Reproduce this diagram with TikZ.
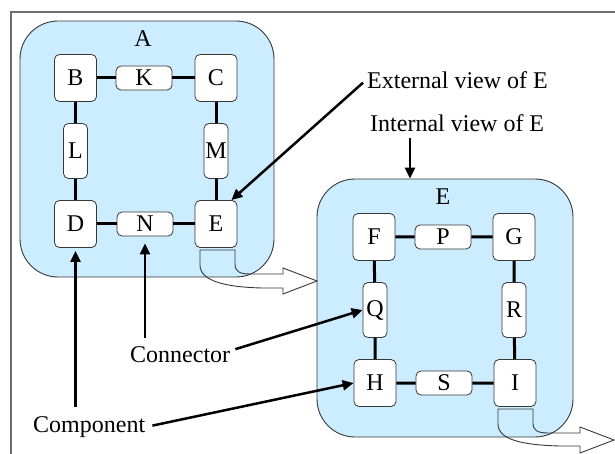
\documentclass[tikz,border=0pt]{standalone}
\usepackage{fontspec}
\setmainfont{Liberation Serif}
\usetikzlibrary{arrows.meta}
\definecolor{panel}{RGB}{204,236,255}
\definecolor{edge}{RGB}{55,55,55}
\definecolor{framegray}{RGB}{110,110,110}
\begin{document}
\begin{tikzpicture}[x=1pt,y=-1pt,
  every node/.style={font=\fontsize{24}{28}\selectfont, inner sep=0pt},
  container/.style={draw=edge, line width=0.9pt, fill=panel, rounded corners=38pt},
  part/.style={draw=edge, line width=0.8pt, fill=white, rounded corners=5pt},
  comp/.style={part, minimum width=42pt, minimum height=47pt},
  hconn/.style={part, minimum width=56pt, minimum height=24pt},
  vconn/.style={part, minimum width=24pt, minimum height=55pt},
  link/.style={line width=3pt},
  pointer/.style={line width=2.5pt, -{Triangle[length=11pt,width=10pt]}},
  tab/.style={draw=edge, line width=0.9pt, line join=miter}
]
\useasboundingbox (0,0) rectangle (615,454);

% outer frame
\draw[framegray, line width=1.4pt] (11,454) -- (11,12) -- (615,12);

% containers
\node[container, minimum width=254pt, minimum height=256pt] (Abox) at (147,149) {};
\node[anchor=base] (Alabel) at (143,47) {A};
\node[container, minimum width=256pt, minimum height=258pt] (Ebig) at (445,308) {};
\node[anchor=base] (Elabel) at (443,205) {E};

% delegation tabs (outline only)
\draw[tab] (200,250) -- (235,250) -- (235,264)
  .. controls (235,271) and (239,274) .. (250,274) -- (283,274) -- (283,268)
  -- (317,281) -- (283,294) -- (283,288) -- (262,288)
  .. controls (222,287) and (200,280) .. (200,265) -- cycle;
\draw[tab] (498,409) -- (533,409) -- (533,423)
  .. controls (533,430) and (537,433) .. (548,433) -- (580,433) -- (580,427)
  -- (614,440) -- (580,453) -- (580,446) -- (560,446)
  .. controls (520,445) and (498,439) .. (498,424) -- cycle;

% components and connectors of A
\node[comp] (B) at (75.5,78) {B};
\node[hconn] (K) at (144,78) {K};
\node[comp] (C) at (216,78) {C};
\node[vconn] (L) at (75.5,151) {L};
\node[vconn] (M) at (216,151) {M};
\node[comp] (D) at (75.5,224) {D};
\node[hconn] (N) at (145,224) {N};
\node[comp] (E) at (216,224) {E};
\draw[link] (B) -- (K) (K) -- (C) (B) -- (L) (L) -- (D)
  (C) -- (M) (M) -- (E) (D) -- (N) (N) -- (E);

% components and connectors inside E
\node[comp] (F) at (374,237) {F};
\node[hconn] (P) at (443,237) {P};
\node[comp] (G) at (514,237) {G};
\node[vconn] (Q) at (375,310) {Q};
\node[vconn] (R) at (514,310) {R};
\node[comp] (H) at (375,383) {H};
\node[hconn] (S) at (444,383) {S};
\node[comp] (I) at (515,383) {I};
\draw[link] (F) -- (P) (P) -- (G) (F) -- (Q) (Q) -- (H)
  (G) -- (R) (R) -- (I) (H) -- (S) (S) -- (I);

% annotations
\node[anchor=base west] (ext) at (367,89) {External view of E};
\node[anchor=base west] (int) at (370,132) {Internal view of E};
\node[anchor=base west] (conn) at (130,362) {Connector};
\node[anchor=base west] (compl) at (33,432) {Component};

\draw[pointer] ([xshift=-4pt,yshift=-2pt]ext.west) -- ([xshift=-6pt]E.north east);
\draw[pointer] ([xshift=40pt,yshift=-6pt]int.south west) -- ([xshift=40pt]int.south west |- Ebig.north);
\draw[pointer] ([yshift=8pt]N.south |- conn.north) -- ([yshift=-7pt]N.south);
\draw[pointer] ([xshift=5pt,yshift=5pt]conn.east) -- (Q.west);
\draw[pointer] ([yshift=9pt]D.south |- compl.north) -- ([yshift=-3pt]D.south);
\draw[pointer] ([xshift=7pt,yshift=1pt]compl.east) -- (H.west);
\end{tikzpicture}
\end{document}
